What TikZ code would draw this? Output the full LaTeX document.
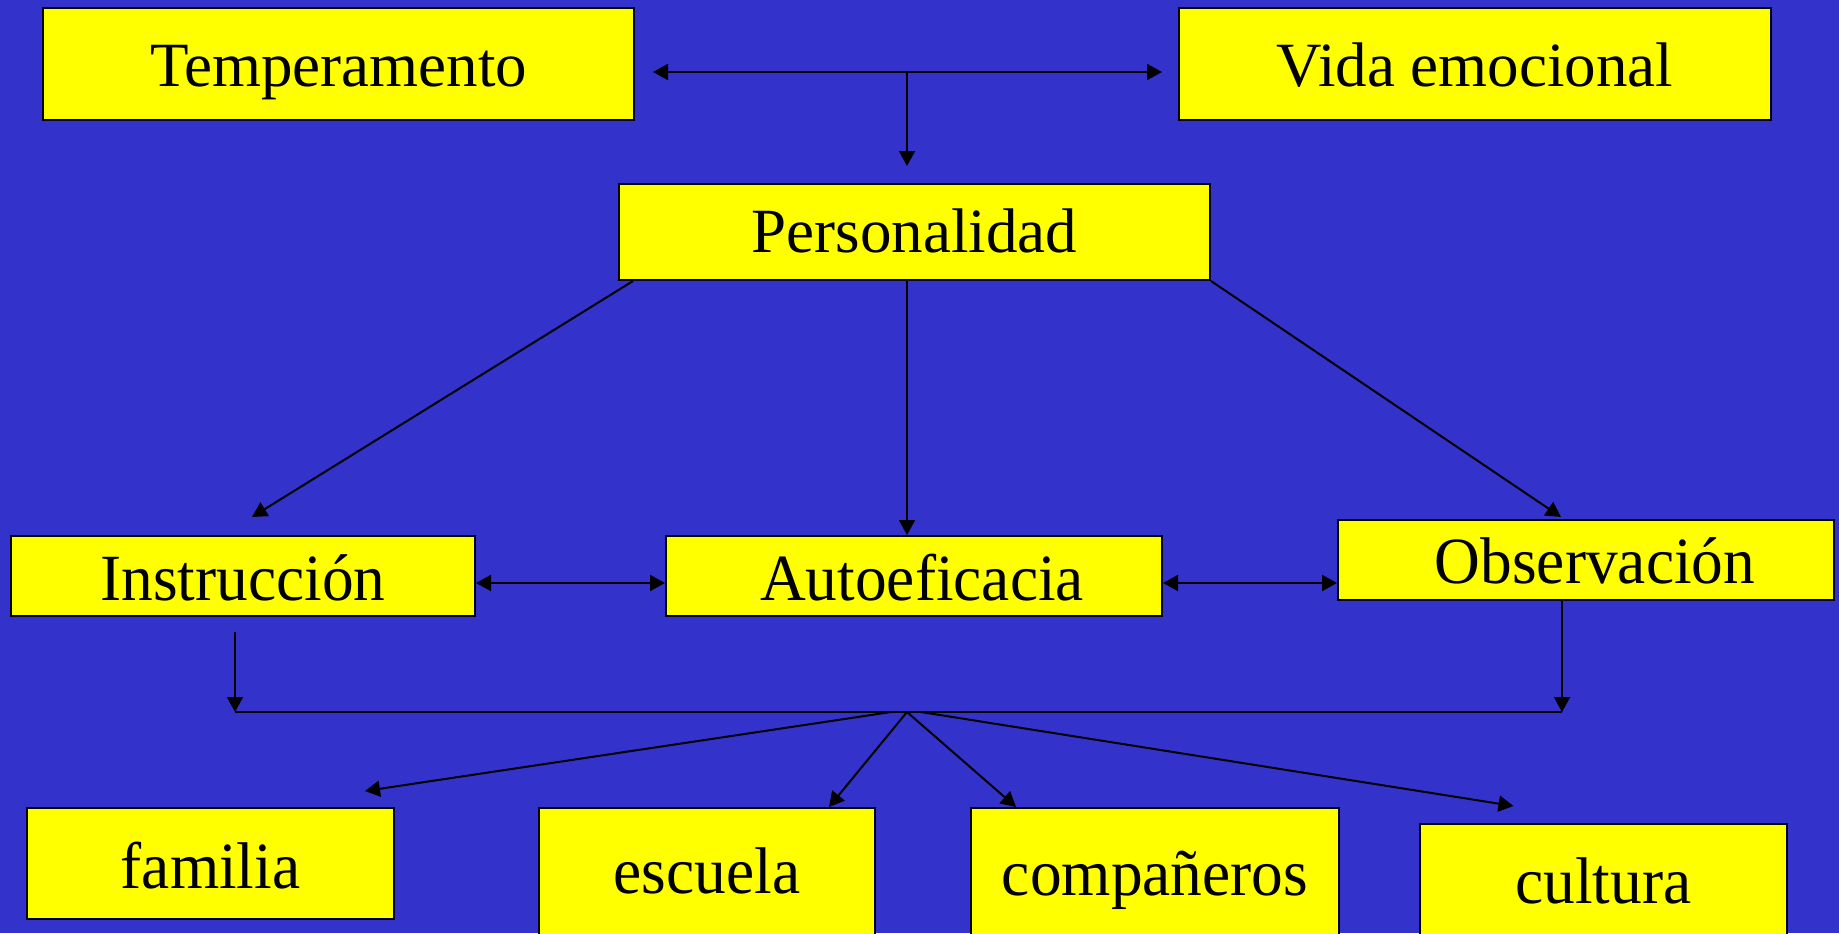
\documentclass[tikz,border=0pt]{standalone}
\usepackage{fontspec}
\setmainfont{Liberation Serif}
\newfontfamily\lowfont[FakeStretch=0.96]{Liberation Serif}
\usetikzlibrary{arrows.meta}
\definecolor{bg}{RGB}{51,51,204}
\definecolor{boxy}{RGB}{255,255,0}
\begin{document}
\begin{tikzpicture}[x=0.5pt,y=-0.5pt,
  box/.style={draw=black,fill=boxy,line width=1pt,inner sep=0pt,text depth=0pt},
  toptxt/.style={font=\fontsize{31.5}{31.5}\selectfont},
  lowtxt/.style={font=\lowfont\fontsize{33}{33}\selectfont},
  conn/.style={line width=1pt,-{Triangle[length=7.5pt,width=8pt]}},
  dconn/.style={line width=1pt,{Triangle[length=7.5pt,width=8pt]}-{Triangle[length=7.5pt,width=8pt]}},
  plainline/.style={line width=1pt}]
\useasboundingbox (0,0) rectangle (1839,933);
\fill[bg] (0,0) rectangle (1839,933);
\begin{scope}
\clip (0,0) rectangle (1839,933);
% boxes
\node[box,toptxt,minimum width=295.5pt,minimum height=56pt,text height=22pt] (T) at (338.5,64) {Temperamento};
\node[box,toptxt,minimum width=296pt,minimum height=56pt,text height=22pt] (V) at (1475,64) {Vida emocional};
\node[box,toptxt,minimum width=295.5pt,minimum height=48pt,text height=20pt] (P) at (914.5,232) {Personalidad};
\node[box,lowtxt,minimum width=232pt,minimum height=40pt,text height=24pt] (I) at (243,576) {Instrucción};
\node[box,lowtxt,minimum width=248pt,minimum height=40pt,text height=24pt] (A) at (914,576) {\hspace*{8pt}Autoeficacia};
\node[box,lowtxt,minimum width=248pt,minimum height=40pt,text height=23pt] (O) at (1586,560) {\hspace*{9pt}Observación};
\node[box,lowtxt,minimum width=183.5pt,minimum height=55.5pt,text height=24.5pt] (fam) at (210.5,863.5) {familia};
\node[box,lowtxt,minimum width=168pt,minimum height=71pt,text height=14pt] (esc) at (707,879) {escuela};
\node[box,lowtxt,minimum width=184pt,minimum height=71pt,text height=16pt] (comp) at (1155,879) {compañeros};
\node[box,lowtxt,minimum width=183.5pt,minimum height=63pt,text height=16pt] (cult) at (1603.5,887) {cultura};
% coordinates
\coordinate (j1) at (907,72);
\coordinate (pa) at (907,280);
\coordinate (m1) at (0,583);
\coordinate (i0) at (235,632);
\coordinate (c1) at (235,712);
\coordinate (c2) at (1562,712);
\coordinate (fl) at (891,712);
\coordinate (f0) at (907,712);
\coordinate (fr) at (921,712);
% connectors
\draw[dconn,shorten <=9pt,shorten >=8pt] (T.east |- j1) -- (V.west |- j1);
\draw[conn,shorten >=8.5pt] (j1) -- (j1 |- P.north);
\draw[conn] ([xshift=7.5pt]P.south west) -- ([xshift=4.5pt,yshift=9pt]I.north);
\draw[conn] (pa) -- (pa |- A.north);
\draw[conn] (P.south east) -- ([xshift=-12.5pt,yshift=1pt]O.north);
\draw[dconn] (I.east |- m1) -- (A.west |- m1);
\draw[dconn] (A.east |- m1) -- (O.west |- m1);
\draw[conn] (i0) -- (c1);
\draw[conn] (c2 |- O.south) -- (c2);
\draw[plainline] (c1) -- (c2);
\draw[conn] (fl) -- ([xshift=-15pt,yshift=8pt]fam.north east);
\draw[conn] (f0) -- ([xshift=-23.5pt]esc.north east);
\draw[conn] (f0) -- ([xshift=23pt]comp.north west);
\draw[conn] (fr) -- ([xshift=-45pt,yshift=8.5pt]cult.north);
\end{scope}
\end{tikzpicture}
\end{document}
